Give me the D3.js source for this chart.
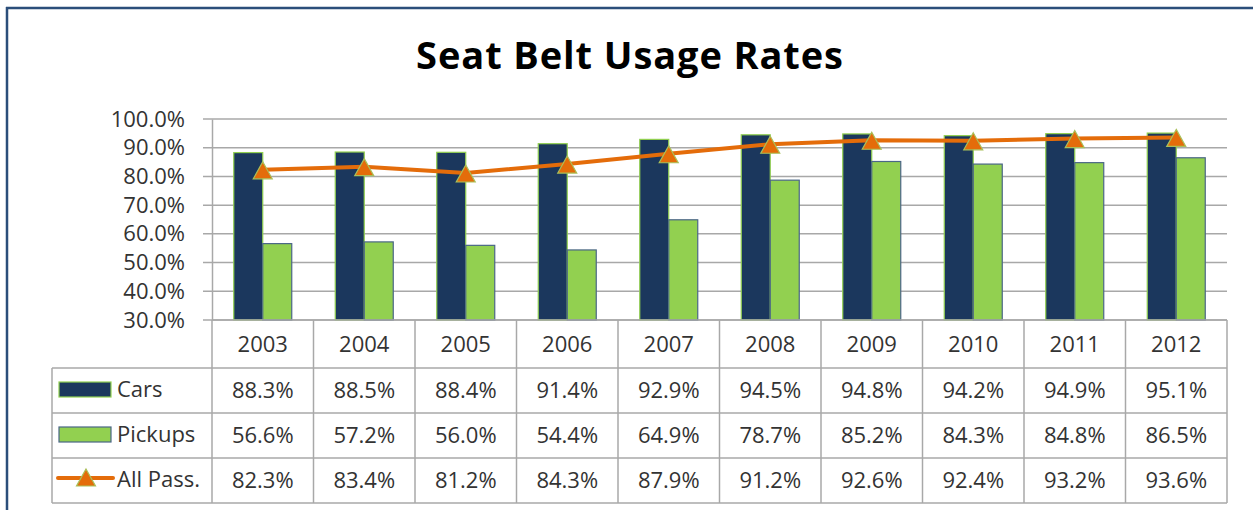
<!DOCTYPE html>
<html><head><meta charset="utf-8">
<script src="https://cdn.jsdelivr.net/npm/d3@7"></script>
<style>
html,body{margin:0;padding:0;background:#fff;}
svg{display:block;}
text{font-family:"Open Sans",sans-serif;}
</style></head>
<body>
<svg id="chart" width="1253" height="510"></svg>
<script>
const years = ["2003","2004","2005","2006","2007","2008","2009","2010","2011","2012"];
const cars = [88.3,88.5,88.4,91.4,92.9,94.5,94.8,94.2,94.9,95.1];
const pickups = [56.6,57.2,56.0,54.4,64.9,78.7,85.2,84.3,84.8,86.5];
const allPass = [82.3,83.4,81.2,84.3,87.9,91.2,92.6,92.4,93.2,93.6];
const seriesNames = ["Cars","Pickups","All Pass."];
const yTicks = [30,40,50,60,70,80,90,100];
const title = "Seat Belt Usage Rates";

const NAVY = "#1b375d", GREEN = "#92d050", ORANGE = "#e46c0a", GRID = "#a8a8a8", TXT = "#333333";

const svg = d3.select("#chart");

// outer frame
svg.append("line").attr("x1",6).attr("x2",1253).attr("y1",8).attr("y2",8).attr("stroke","#2b4e7a").attr("stroke-width",2.5);
svg.append("line").attr("x1",7).attr("x2",7).attr("y1",7).attr("y2",510).attr("stroke","#2b4e7a").attr("stroke-width",2.5);

// title
svg.append("text").attr("x",630).attr("y",69).attr("text-anchor","middle")
  .attr("font-size",38).attr("font-weight","bold").attr("letter-spacing",0.9).attr("fill","#000").text(title);

const x = d3.scaleBand().domain(years).range([212,1227]).paddingInner(0).paddingOuter(0);
const xs = d3.scaleBand().domain(["Cars","Pickups"]).range([0,x.bandwidth()]).paddingInner(0).paddingOuter(0.75);
const y = d3.scaleLinear().domain([30,100]).range([320,119]);

// gridlines
svg.append("g").selectAll("line").data(yTicks).join("line")
  .attr("x1",203).attr("x2",1227).attr("y1",d=>y(d)).attr("y2",d=>y(d))
  .attr("stroke",GRID).attr("stroke-width",1.5);

// y axis
const yAxis = d3.axisLeft(y).tickValues(yTicks).tickFormat(d=>d3.format(".1f")(d)+"%").tickSize(0).tickPadding(27);
const gy = svg.append("g").attr("transform","translate(212,0)").call(yAxis);
gy.select(".domain").attr("stroke",GRID).attr("stroke-width",1.5);
gy.selectAll("text").attr("font-size",22).attr("fill",TXT).attr("font-family","Open Sans");

// bars
const g = svg.append("g");
years.forEach((yr,i)=>{
  g.append("rect").attr("x",x(yr)+xs("Cars")).attr("width",xs.bandwidth())
    .attr("y",y(cars[i])).attr("height",y(30)-y(cars[i]))
    .attr("fill",NAVY).attr("stroke",GREEN).attr("stroke-width",1.2);
  g.append("rect").attr("x",x(yr)+xs("Pickups")).attr("width",xs.bandwidth())
    .attr("y",y(pickups[i])).attr("height",y(30)-y(pickups[i]))
    .attr("fill",GREEN).attr("stroke","#4a6686").attr("stroke-width",1.2);
});

// line
const cx = d => x(d)+x.bandwidth()/2;
const line = d3.line().x((d,i)=>cx(years[i])).y(d=>y(d));
svg.append("path").datum(allPass).attr("d",line).attr("fill","none")
  .attr("stroke",ORANGE).attr("stroke-width",4).attr("stroke-linejoin","round");
function tri(px,py){return `M${px},${py-8}L${px+9.5},${py+9}L${px-9.5},${py+9}Z`;}
svg.append("g").selectAll("path").data(allPass).join("path")
  .attr("d",(d,i)=>tri(cx(years[i]),y(d)))
  .attr("fill",ORANGE).attr("stroke","#a9c05a").attr("stroke-width",1.2);

// data table
const rowY = [320,368,413,458,503];
const tg = svg.append("g");
tg.append("line").attr("x1",212).attr("x2",1227).attr("y1",320).attr("y2",320).attr("stroke",GRID).attr("stroke-width",1.5);
[368,413,458,503].forEach(v=>{
  tg.append("line").attr("x1",52).attr("x2",1227).attr("y1",v).attr("y2",v).attr("stroke",GRID).attr("stroke-width",1.5);
});
const bounds = years.map(d=>x(d)).concat([x.range()[1]]);
bounds.forEach(b=>{
  tg.append("line").attr("x1",b).attr("x2",b).attr("y1",320).attr("y2",503).attr("stroke",GRID).attr("stroke-width",1.5);
});
tg.append("line").attr("x1",52).attr("x2",52).attr("y1",368).attr("y2",503).attr("stroke",GRID).attr("stroke-width",1.5);

tg.selectAll("text.yr").data(years).join("text").attr("class","yr")
  .attr("x",d=>cx(d)).attr("y",(rowY[0]+rowY[1])/2).attr("dy","0.35em")
  .attr("text-anchor","middle").attr("font-size",22).attr("fill",TXT).text(d=>d);

const fmt = v => d3.format(".1f")(v)+"%";
[cars,pickups,allPass].forEach((arr,r)=>{
  const cyRow = (rowY[r+1]+rowY[r+2])/2;
  tg.selectAll("text.v"+r).data(arr).join("text").attr("class","v"+r)
    .attr("x",(d,i)=>cx(years[i])).attr("y",cyRow).attr("dy","0.35em")
    .attr("text-anchor","middle").attr("font-size",22).attr("fill",TXT).text(d=>fmt(d));
  tg.append("text").attr("x",117).attr("y",cyRow-1).attr("dy","0.35em")
    .attr("font-size",22).attr("fill",TXT).text(seriesNames[r]);
});

tg.append("rect").attr("x",59).attr("y",382).attr("width",52).attr("height",15).attr("fill",NAVY).attr("stroke",GREEN).attr("stroke-width",1.2);
tg.append("rect").attr("x",59).attr("y",427).attr("width",52).attr("height",15).attr("fill",GREEN).attr("stroke","#4a6686").attr("stroke-width",1.2);
tg.append("line").attr("x1",58).attr("x2",113).attr("y1",478).attr("y2",478).attr("stroke",ORANGE).attr("stroke-width",4).attr("stroke-linecap","round");
tg.append("path").attr("d",tri(86,477)).attr("fill",ORANGE).attr("stroke","#a9c05a").attr("stroke-width",1.2);
</script>
</body></html>
